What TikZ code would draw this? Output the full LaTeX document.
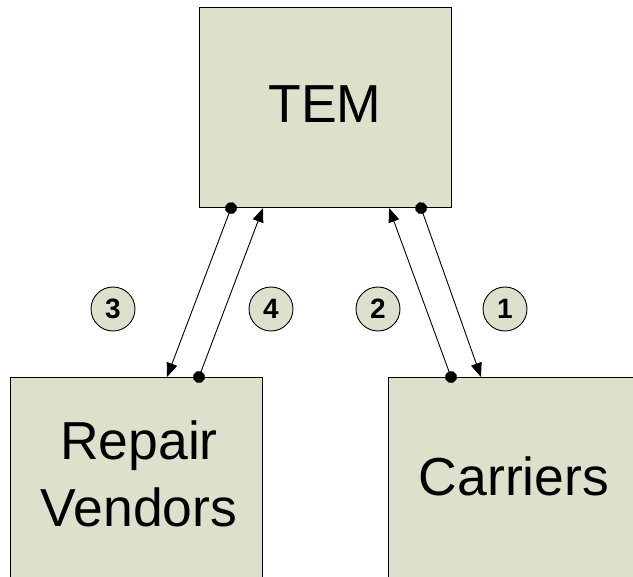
\documentclass[tikz,border=0pt]{standalone}
\usepackage{fontspec}
\setmainfont{Liberation Sans}
\usetikzlibrary{arrows.meta}
\definecolor{boxfill}{RGB}{221,224,203}
\tikzset{
  x=1pt, y=-1pt,
  block/.style={draw=black, line width=1.1pt, fill=boxfill, minimum width=252pt, inner sep=0pt},
  bigtext/.style={font=\fontsize{53.5}{67}\selectfont, align=center, inner sep=0pt},
  badge/.style={circle, draw=black, line width=0.9pt, fill=boxfill, minimum size=44pt, inner sep=0pt, font=\fontsize{28}{28}\selectfont\bfseries},
  flow/.style={line width=0.9pt, shorten <=-6pt, {Circle[length=12pt]}-{Triangle[length=14pt,width=11pt]}}
}
\begin{document}
\begin{tikzpicture}
\useasboundingbox (0,0) rectangle (633,577);
\clip (0,0) rectangle (633,577);

% the three parties
\node[block, minimum height=200pt, anchor=north west] (tem) at (199,7) {};
\node[block, minimum height=260pt, anchor=north west] (rv) at (10,377) {};
\node[block, minimum height=260pt, anchor=north west] (car) at (388,377) {};

\node[bigtext] (temlbl) at (325,104) {TEM};
\node[bigtext] (rvlbl) at (139,474) {Repair\\Vendors};
\node[bigtext] (carlbl) at (514,476) {Carriers};

% attachment points on the box edges
\coordinate (t3) at ([xshift=32pt]tem.south west);
\coordinate (t4) at ([xshift=64pt]tem.south west);
\coordinate (t2) at ([xshift=-63pt]tem.south east);
\coordinate (t1) at ([xshift=-31pt]tem.south east);
\coordinate (r3) at ([xshift=157pt]rv.north west);
\coordinate (r4) at ([xshift=189pt]rv.north west);
\coordinate (c2) at ([xshift=63pt]car.north west);
\coordinate (c1) at ([xshift=93pt]car.north west);

% message flows
\draw[flow] (t3) -- (r3);
\draw[flow] (r4) -- (t4);
\draw[flow] (c2) -- (t2);
\draw[flow] (t1) -- (c1);

% step numbers
\node[badge] (n3) at (113,309) {3};
\node[badge] (n4) at (271,309) {4};
\node[badge] (n2) at (378,309) {2};
\node[badge] (n1) at (505,309) {1};
\end{tikzpicture}
\end{document}
